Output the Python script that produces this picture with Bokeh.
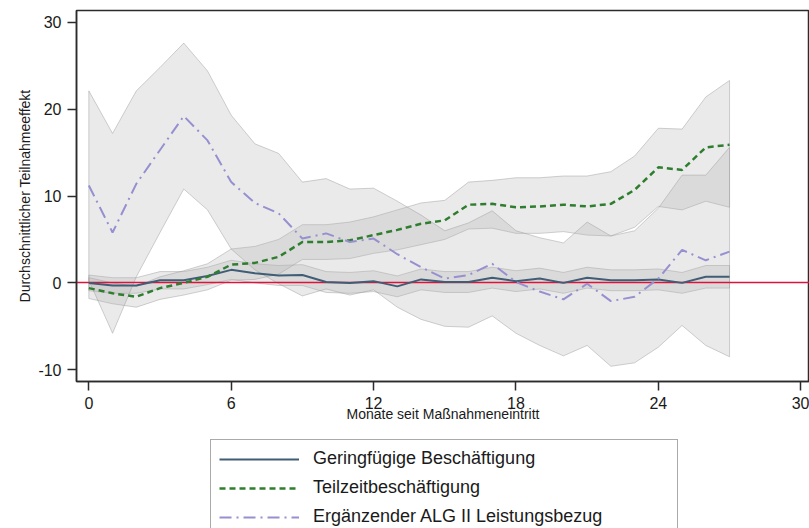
from bokeh.plotting import figure
from bokeh.models import Legend, LegendItem, Range1d, FixedTicker
from bokeh.layouts import column
from bokeh.embed import file_html
from bokeh.resources import INLINE

months = list(range(28))

gering = [0.0, -0.3, -0.3, 0.3, 0.3, 0.8, 1.5, 1.1, 0.85, 0.9, 0.1, 0.0, 0.2, -0.4,
          0.4, 0.1, 0.1, 0.6, 0.2, 0.5, 0.0, 0.6, 0.3, 0.3, 0.4, 0.0, 0.7, 0.7]
gering_lo = [-0.9, -1.2, -1.2, -0.7, -0.7, -0.2, 0.4, 0.0, -0.3, -0.3, -1.1, -1.2, -1.0, -1.6,
             -0.8, -1.1, -1.1, -0.6, -1.0, -0.7, -1.2, -0.6, -0.9, -0.9, -0.8, -1.2, -0.6, -0.6]
gering_hi = [0.9, 0.6, 0.6, 1.3, 1.3, 1.8, 2.6, 2.2, 2.0, 2.1, 1.3, 1.2, 1.4, 0.8,
             1.6, 1.3, 1.3, 1.8, 1.4, 1.7, 1.2, 1.8, 1.5, 1.5, 1.6, 1.2, 2.0, 2.0]

teilzeit = [-0.6, -1.2, -1.6, -0.6, 0.0, 0.7, 2.1, 2.3, 3.0, 4.7, 4.7, 4.9, 5.5, 6.1,
            6.8, 7.2, 9.0, 9.1, 8.7, 8.8, 9.0, 8.8, 9.1, 10.7, 13.3, 13.0, 15.6, 15.9]
teilzeit_lo = [-1.8, -2.4, -2.8, -1.9, -1.4, -0.8, 0.3, 0.4, 1.0, 2.7, 2.7, 2.8, 3.4, 3.8,
               4.4, 5.0, 6.2, 6.3, 5.7, 5.7, 5.9, 5.5, 5.4, 6.4, 8.8, 8.4, 9.4, 8.7]
teilzeit_hi = [0.6, 0.0, -0.4, 0.7, 1.4, 2.2, 3.9, 4.2, 5.0, 6.7, 6.7, 7.0, 7.6, 8.4,
               9.2, 9.5, 11.6, 11.8, 12.1, 12.1, 12.3, 12.3, 12.8, 14.6, 17.8, 17.7, 21.4, 23.3]

alg = [11.2, 5.8, 11.4, 15.3, 19.2, 16.4, 11.6, 9.2, 8.0, 5.1, 5.7, 4.7, 5.1, 3.3,
       1.8, 0.5, 0.9, 2.2, 0.1, -1.0, -1.9, -0.1, -2.1, -1.6, 0.5, 3.8, 2.6, 3.6]
alg_lo = [0.3, -5.8, 0.7, 5.8, 10.8, 8.4, 3.9, 1.5, -0.1, -1.5, -0.7, -1.4, -0.8, -2.8,
          -4.2, -5.0, -5.1, -3.8, -5.8, -7.2, -8.4, -7.2, -9.6, -9.2, -7.4, -4.9, -7.2, -8.5]
alg_hi = [22.1, 17.2, 22.1, 24.8, 27.6, 24.4, 19.3, 16.0, 14.9, 11.6, 12.0, 10.8, 10.9, 9.4,
          7.8, 6.0, 6.9, 8.3, 6.0, 5.2, 4.6, 7.0, 5.4, 6.0, 8.6, 12.4, 12.4, 15.6]

labels = ["Geringfügige Beschäftigung", "Teilzeitbeschäftigung",
          "Ergänzender ALG II Leistungsbezug"]
x_ticks = [0, 6, 12, 18, 24, 30]
y_ticks = [-10, 0, 10, 20, 30]
y_tick_labels = {-10: "-10", 0: "0", 10: "10", 20: "20", 30: "30"}

FONT = "Liberation Sans"
C_GER = "#405d76"
C_TZ = "#2f7d2f"
C_ALG = "#9690d0"

p = figure(width=809, height=436, output_backend="svg", toolbar_location=None,
           x_range=Range1d(-0.52, 30.37), y_range=Range1d(-11.35, 31.35),
           min_border_left=76, min_border_right=0, min_border_top=10, min_border_bottom=55,
           background_fill_color="white", border_fill_color="white")

p.xgrid.visible = False
p.ygrid.visible = False
p.outline_line_color = "#2b2b2b"
p.outline_line_width = 1.5

# confidence bands
for lo, hi in [(gering_lo, gering_hi), (teilzeit_lo, teilzeit_hi), (alg_lo, alg_hi)]:
    p.patch(x=months + months[::-1], y=hi + lo[::-1],
            fill_color="#b0b0b0", fill_alpha=0.27,
            line_color="#9a9a9a", line_alpha=0.45, line_width=1)

# zero line
p.hspan(y=[0], line_color="#dc143c", line_width=1.5)

p.line(months, gering, line_color=C_GER, line_width=2)
p.line(months, teilzeit, line_color=C_TZ, line_width=2.5, line_dash="6 4")
p.line(months, alg, line_color=C_ALG, line_width=2, line_dash="12 5 2 5")

for ax in (p.xaxis, p.yaxis):
    ax.axis_line_color = "#2b2b2b"
    ax.axis_line_width = 1.5
    ax.major_tick_line_color = "#2b2b2b"
    ax.major_tick_line_width = 1.5
    ax.major_tick_out = 9
    ax.major_tick_in = 0
    ax.minor_tick_out = 0
    ax.minor_tick_in = 0
    ax.major_label_text_font = FONT
    ax.major_label_text_font_size = "16px"
    ax.major_label_text_color = "#1a1a1a"
    ax.axis_label_text_font = FONT
    ax.axis_label_text_font_size = "14px"
    ax.axis_label_text_font_style = "normal"
    ax.axis_label_text_color = "#1a1a1a"

p.xaxis.ticker = FixedTicker(ticks=x_ticks)
p.yaxis.ticker = FixedTicker(ticks=y_ticks)
p.yaxis.major_label_overrides = y_tick_labels
p.xaxis.axis_label = "Monate seit Maßnahmeneintritt"
p.yaxis.axis_label = "Durchschnittlicher Teilnahmeeffekt"
p.xaxis.major_label_standoff = 6
p.xaxis.axis_label_standoff = -6
p.yaxis.major_label_standoff = 6
p.yaxis.axis_label_standoff = 2

# legend in its own strip below the plot (sample lines kept out of view)
lg = figure(width=809, height=92, output_backend="svg", toolbar_location=None,
            x_axis_location=None, y_axis_location=None,
            x_range=Range1d(-200, -199), y_range=Range1d(0, 1),
            min_border_left=76, min_border_right=0, min_border_top=0, min_border_bottom=0,
            outline_line_color=None, background_fill_color="white",
            border_fill_color="white")
lg.xgrid.visible = False
lg.ygrid.visible = False
g1 = lg.line(months, gering, line_color=C_GER, line_width=2)
g2 = lg.line(months, teilzeit, line_color=C_TZ, line_width=2.5, line_dash="6 4")
g3 = lg.line(months, alg, line_color=C_ALG, line_width=2, line_dash="12 5 2 5")

legend = Legend(items=[LegendItem(label=labels[0], renderers=[g1]),
                       LegendItem(label=labels[1], renderers=[g2]),
                       LegendItem(label=labels[2], renderers=[g3])],
                location=(134, -8), orientation="vertical",
                border_line_color="#555555", border_line_width=1,
                background_fill_color="white",
                padding=8, spacing=8, margin=0,
                glyph_width=80, glyph_height=20, label_height=20,
                label_standoff=14, label_width=356,
                label_text_font=FONT, label_text_font_size="18px",
                label_text_color="#1a1a1a")
lg.add_layout(legend, "center")

layout = column(p, lg, spacing=0)
open("out.html", "w").write(file_html(layout, INLINE))
